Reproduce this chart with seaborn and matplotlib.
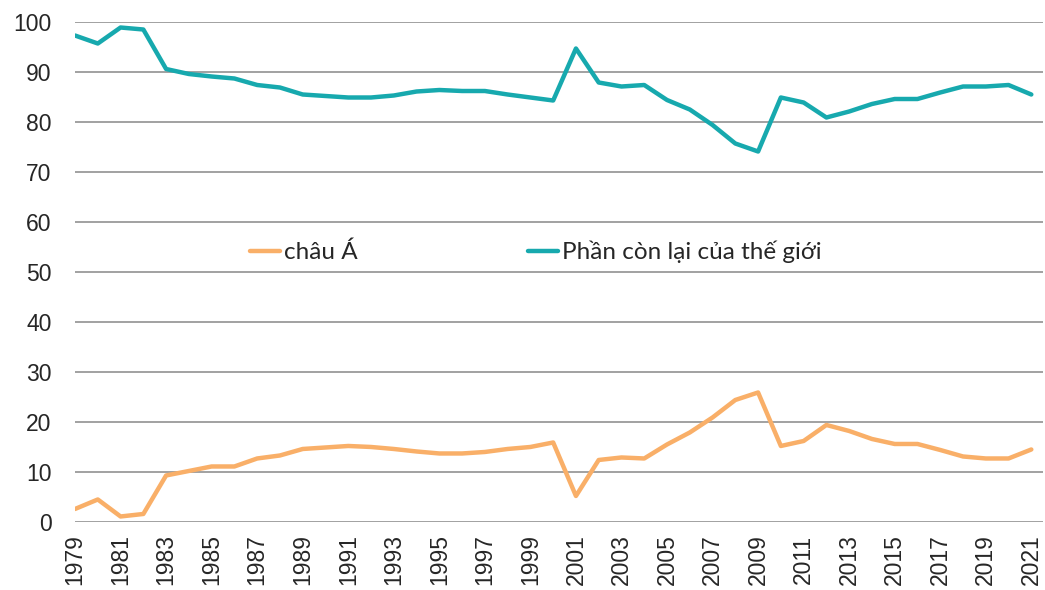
import seaborn as sns
import matplotlib.pyplot as plt
import pandas as pd

years = list(range(1979, 2022))
asia = [2.6, 4.5, 1.1, 1.6, 9.3, 10.2, 11.1, 11.1, 12.7, 13.3,
        14.6, 14.9, 15.2, 15.0, 14.6, 14.1, 13.7, 13.7, 14.0, 14.6,
        15.0, 15.9, 5.2, 12.4, 12.9, 12.7, 15.5, 17.9, 20.9, 24.4,
        25.9, 15.2, 16.2, 19.4, 18.2, 16.6, 15.6, 15.6, 14.4, 13.1,
        12.7, 12.7, 14.5]
rest = [97.3, 95.7, 98.9, 98.5, 90.6, 89.6, 89.1, 88.7, 87.4, 86.9,
        85.5, 85.2, 84.9, 84.9, 85.3, 86.1, 86.4, 86.2, 86.2, 85.5,
        84.9, 84.3, 94.7, 87.9, 87.1, 87.4, 84.4, 82.5, 79.4, 75.7,
        74.1, 84.9, 83.9, 80.9, 82.1, 83.6, 84.6, 84.6, 85.9, 87.1,
        87.1, 87.4, 85.5]
series_names = ["châu Á", "Phần còn lại của thế giới"]
colors = ["#F9AF68", "#17A9AE"]
xtick_years = list(range(1979, 2022, 2))

df = pd.DataFrame({
    "year": years * 2,
    "value": asia + rest,
    "series": [series_names[0]] * len(years) + [series_names[1]] * len(years),
})

sns.set_style("white")
plt.rcParams["font.family"] = ["Liberation Sans", "DejaVu Sans"]

fig = plt.figure(figsize=(10.45, 5.9), dpi=100)
ax = fig.add_axes([0.0718, 0.1153, 0.926, 0.8474])

sns.lineplot(data=df, x="year", y="value", hue="series", palette=colors,
             linewidth=3.2, ax=ax, legend=True)

ax.set_xlim(1979, 2021.5)
ax.set_ylim(0, 100)
ax.set_yticks(range(0, 101, 10))
ax.set_xticks(xtick_years)
ax.set_xticklabels([str(y) for y in xtick_years], rotation=90)
ax.tick_params(axis="both", labelsize=16.5, length=0)
ax.tick_params(axis="y", pad=17)
ax.tick_params(axis="x", pad=9)
ax.grid(axis="y", color="#9a9a9a", linewidth=1.3)
ax.set_axisbelow(True)
for s in ax.spines.values():
    s.set_visible(False)
ax.set_xlabel("")
ax.set_ylabel("")

handles, labels = ax.get_legend_handles_labels()
ax.legend(handles, labels, ncol=2, frameon=False, loc="center left",
          bbox_to_anchor=(0.168, 0.54), borderpad=0, handlelength=1.25,
          handletextpad=0.15, columnspacing=7.0,
          prop={"family": ["Lato", "DejaVu Sans"], "size": 17.5})

plt.savefig("out.png", dpi=100)
plt.close()
